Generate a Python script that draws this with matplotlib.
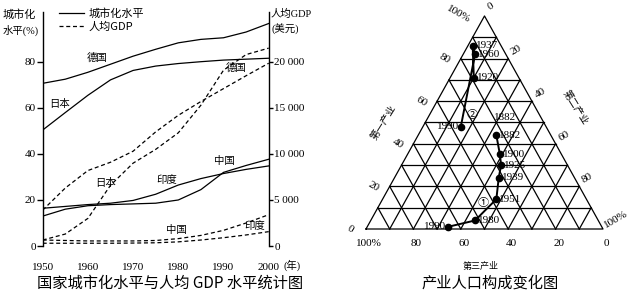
import matplotlib
matplotlib.use("Agg")
import matplotlib.pyplot as plt
import numpy as np
from matplotlib.lines import Line2D

plt.rcParams["font.family"] = ["Liberation Serif", "Noto Sans CJK SC", "DejaVu Sans"]
plt.rcParams["axes.unicode_minus"] = False

W, H = 635, 295

# ---- left chart data ----
years = [1950, 1955, 1960, 1965, 1970, 1975, 1980, 1985, 1990, 1995, 2000]
urban_germany = [70.7, 72.5, 75.5, 79.0, 82.5, 85.5, 88.3, 89.8, 90.5, 93.0, 96.7]
urban_japan = [50.4, 58.0, 65.5, 72.2, 76.3, 78.2, 79.3, 80.1, 80.8, 81.2, 81.6]
urban_china = [13.0, 16.0, 17.5, 18.0, 18.3, 18.6, 20.0, 24.5, 32.0, 35.0, 37.7]
urban_india = [16.4, 17.2, 18.0, 18.6, 19.8, 22.5, 26.5, 29.3, 31.5, 33.3, 34.8]
gdp_germany = [3900, 6300, 8200, 9100, 10300, 12400, 14200, 15700, 17100, 18500, 19860]
gdp_japan = [650, 1300, 3000, 6600, 9000, 10500, 12300, 15300, 19100, 20800, 21500]
gdp_china = [650, 600, 550, 550, 550, 600, 800, 1150, 1700, 2500, 3400]
gdp_india = [300, 300, 300, 300, 320, 350, 450, 650, 900, 1200, 1560]

urban_ticks = [0, 20, 40, 60, 80]
gdp_ticks = [0, 5000, 10000, 15000, 20000]
gdp_tick_labels = ["0", "5 000", "10 000", "15 000", "20 000"]
year_ticks = [1950, 1960, 1970, 1980, 1990, 2000]

# ---- ternary data (primary %, secondary %) ----
tern_ticks = [0, 20, 40, 60, 80, 100]
tern_tick_labels = ["0", "20", "40", "60", "80", "100%"]
path1_years = [1882, 1900, 1925, 1939, 1951, 1980, 1990]
path1_primary = [44, 35, 30, 24, 14, 4, 1]
path1_secondary = [33, 39, 42, 44, 48, 44, 34]
path2_years = [1920, 1937, 1960, 1990]
path2_primary = [71, 86, 82, 48]
path2_secondary = [10, 2, 5, 16]

DASH = (0, (3.2, 2.2))


def fx(x):
    return x / W


def fy(y):
    return 1 - y / H


fig = plt.figure(figsize=(W / 100, H / 100), dpi=100)

# ================= left chart =================
ax = fig.add_axes([fx(42.7), fy(246), (268.7 - 42.7) / W, (246 - 12) / H])
ax2 = ax.twinx()
ax.set_xlim(1950, 2000)
ax.set_ylim(0, 101.7)
ax2.set_ylim(0, 101.7 * 250)

for s in [urban_germany, urban_japan, urban_china, urban_india]:
    ax.plot(years, s, color="black", lw=0.9)
for s in [gdp_germany, gdp_japan, gdp_china, gdp_india]:
    ax2.plot(years, s, color="black", lw=0.9, ls=DASH)

for a in (ax, ax2):
    a.spines["top"].set_visible(False)
    a.spines["bottom"].set_visible(False)
    a.patch.set_visible(False)
ax2.spines["left"].set_visible(False)
ax.spines["right"].set_visible(False)
ax.spines["left"].set_linewidth(1.0)
ax2.spines["right"].set_linewidth(1.0)

ax.set_yticks(urban_ticks)
ax.set_yticklabels([str(v) for v in urban_ticks], fontsize=8)
ax.tick_params(axis="y", length=4, width=1.0, pad=1)
ax2.set_yticks(gdp_ticks)
ax2.set_yticklabels(gdp_tick_labels, fontsize=8)
ax2.tick_params(axis="y", length=3, width=1.0, pad=1)
ax.set_xticks(year_ticks)
ax.set_xticklabels([str(v) for v in year_ticks], fontsize=8)
ax.tick_params(axis="x", length=0, pad=12)

country_labels = [
    ("德国", 1962.0, 82.0), ("日本", 1953.8, 61.5), ("德国", 1992.8, 77.4),
    ("日本", 1964.0, 27.4), ("印度", 1977.4, 28.7), ("中国", 1990.3, 37.0),
    ("中国", 1979.6, 7.0), ("印度", 1997.0, 8.7),
]
for name, xx, yy in country_labels:
    ax.text(xx, yy, name, fontsize=7.5, ha="center", va="center",
            family=["Noto Sans CJK SC"])

handles = [Line2D([], [], color="black", lw=0.9),
           Line2D([], [], color="black", lw=0.9, ls=DASH)]
ax.legend(handles, ["城市化水平", "人均GDP"], loc="upper left",
          bbox_to_anchor=((53 - 42.7) / 226, 1.04), frameon=False,
          handlelength=2.3, handletextpad=0.4,
          borderpad=0, labelspacing=0.25, prop={"family": ["Noto Sans CJK SC"], "size": 8})

fig.text(fx(3), fy(15), "城市化", fontsize=8, ha="left", va="center", family=["Noto Sans CJK SC"])
fig.text(fx(3), fy(30), "水平(%)", fontsize=7.5, ha="left", va="center")
fig.text(fx(271), fy(14), "人均GDP", fontsize=7.5, ha="left", va="center")
fig.text(fx(271), fy(29), "(美元)", fontsize=7.5, ha="left", va="center")
fig.text(fx(292), fy(265), "(年)", fontsize=7.5, ha="center", va="center")

fig.text(fx(170), fy(283), "国家城市化水平与人均 GDP 水平统计图", fontsize=11,
         ha="center", va="center", family=["Noto Sans CJK SC"])

# ================= ternary chart =================
th = np.sqrt(3) / 2
tx = fig.add_axes([fx(340), 0, (W - 340) / W, 1])
tx.set_xlim((340 - 366) / 237, (635 - 366) / 237)
tx.set_ylim((229 - 295) / 246, 229 / 246)
tx.axis("off")


def tern(p, s):
    p = np.asarray(p) / 100.0
    s = np.asarray(s) / 100.0
    return s + p / 2, p * th


kw = dict(color="black", lw=0.9)
tx.plot([0, 1, 0.5, 0], [0, 0, th, 0], **kw)
for k in range(1, 10):
    f = k / 10
    tx.plot([f / 2, 1 - f / 2], [f * th, f * th], **kw)
    tx.plot([f, f + (1 - f) / 2], [0, (1 - f) * th], **kw)
    tx.plot([1 - f, (1 - f) / 2], [0, (1 - f) * th], **kw)

lab_kw = dict(fontsize=8, ha="center", va="center", textcoords="offset pixels")
for v, lab in zip(tern_ticks, tern_tick_labels):
    # primary, left edge
    px_, py_ = tern(v, 0)
    off = (-26, 2) if v == 100 else (-16, 0)
    tx.annotate(lab, (px_, py_), xytext=off, rotation=-30, **lab_kw)
    # secondary, right edge
    px_, py_ = tern(100 - v, v)
    off = (13, 10) if v == 100 else ((6, 9) if v == 0 else (8, 8))
    tx.annotate(lab, (px_, py_), xytext=off, rotation=30, **lab_kw)
    # tertiary, bottom edge
    px_, py_ = tern(0, 100 - v)
    tx.annotate(lab, (px_, py_), xytext=(3, -14), **lab_kw)

for yrs, pp, ss in [(path1_years, path1_primary, path1_secondary),
                    (path2_years, path2_primary, path2_secondary)]:
    xs, ys = tern(pp, ss)
    tx.plot(xs, ys, color="black", lw=1.4, marker="o", ms=4.5)
    for yr, x0, y0 in zip(yrs, xs, ys):
        if yr == 1990:
            tx.annotate(str(yr), (x0, y0), xytext=(-2, 0), textcoords="offset pixels",
                        fontsize=8, ha="right", va="center")
        else:
            tx.annotate(str(yr), (x0, y0), xytext=(3, 0), textcoords="offset pixels",
                        fontsize=8, ha="left", va="center")

tx.text((505 - 366) / 237, (229 - 117) / 246, "1882", fontsize=8, ha="center", va="center")
tx.text((483 - 366) / 237, (229 - 203) / 246, "①", fontsize=8, ha="center", va="center",
        family=["Noto Sans CJK SC"])
tx.text((472 - 366) / 237, (229 - 115) / 246, "②", fontsize=8, ha="center", va="center",
        family=["Noto Sans CJK SC"])

tx.text((384 - 366) / 237, (229 - 122) / 246, "第一产业", fontsize=7, rotation=58,
        ha="center", va="center", family=["Noto Sans CJK SC"])
tx.text((575 - 366) / 237, (229 - 107) / 246, "第二产业", fontsize=7, rotation=-58,
        ha="center", va="center", family=["Noto Sans CJK SC"])
tx.text((481 - 366) / 237, (229 - 266) / 246, "第三产业", fontsize=6.5,
        ha="center", va="center", family=["Noto Sans CJK SC"])

fig.text(fx(490), fy(283), "产业人口构成变化图", fontsize=11, ha="center", va="center",
         family=["Noto Sans CJK SC"])

fig.savefig("out.png", dpi=100)
